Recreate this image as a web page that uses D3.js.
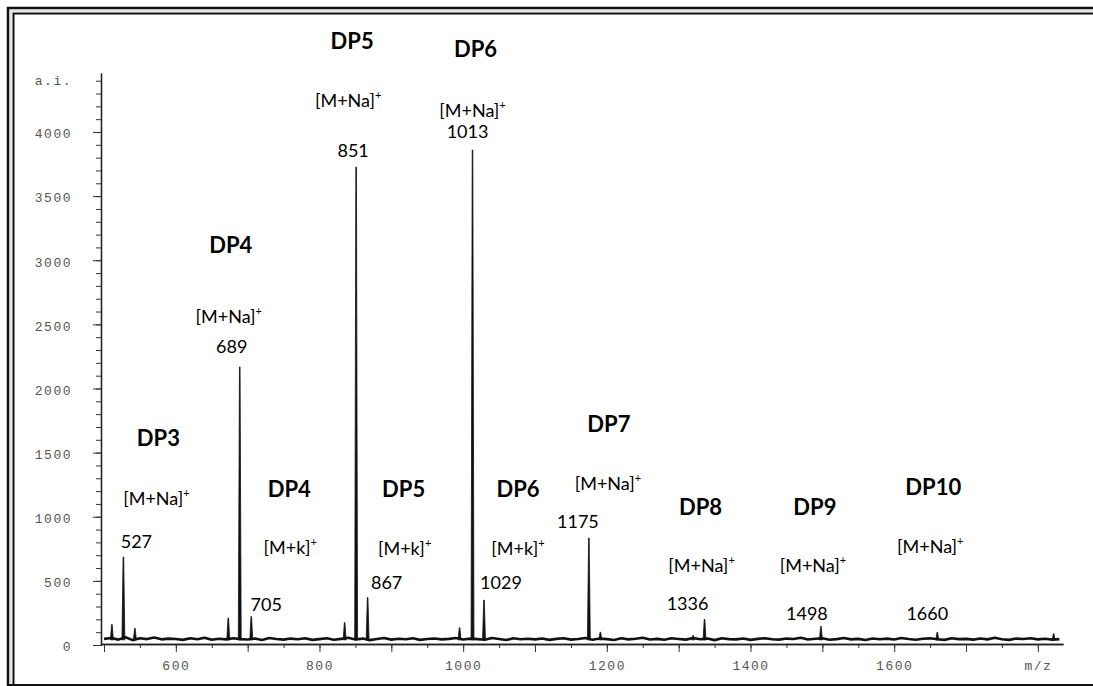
<!DOCTYPE html>
<html>
<head>
<meta charset="utf-8">
<script src="https://cdn.jsdelivr.net/npm/d3@7"></script>
<style>
  body { margin: 0; background: #fff; }
  .tick text { font-family: "Liberation Mono", "DejaVu Sans Mono", monospace; }
</style>
</head>
<body>
<div id="chart"></div>
<script>
// MALDI-TOF spectrum, oligosaccharide series DP3..DP10

// peaks: m/z and intensity (a.i.)
var peakMz  = [511, 527, 543, 673, 689, 705, 835, 851, 867, 995, 1013, 1029, 1175, 1191, 1320, 1336, 1498, 1660, 1822];
var peakInt = [160, 686, 130, 210, 2168, 222, 175, 3727, 370, 135, 3860, 350, 834, 100, 75, 200, 145, 100, 88];

// baseline noise, every 10 m/z from 500 to 1830
var noiseStart = 500, noiseStep = 10;
var noise = [
  48,55,42,60,38,52,46,58,44,50,
  47,40,53,45,57,41,49,44,52,46,
  43,51,39,55,47,42,50,45,53,40,
  46,52,41,48,56,43,50,38,47,54,
  42,49,45,53,40,47,51,44,48,55,
  43,50,46,41,54,47,39,52,45,49,
  44,51,40,48,53,42,47,55,41,50,
  46,39,52,44,49,57,43,48,41,53,
  47,42,55,45,50,38,52,46,44,51,
  40,48,53,45,42,50,47,56,43,49,
  52,41,46,54,44,48,39,51,45,50,
  43,55,47,41,49,52,45,40,53,46,
  48,42,51,44,56,45,40,50,47,53,
  44,49,42,46
];

// annotated peaks
var annMz  = [527, 689, 705, 851, 867, 1013, 1029, 1175, 1336, 1498, 1660];
var annDp  = ["DP3", "DP4", "DP4", "DP5", "DP5", "DP6", "DP6", "DP7", "DP8", "DP9", "DP10"];
var annIon = ["[M+Na]", "[M+Na]", "[M+k]", "[M+Na]", "[M+k]", "[M+Na]", "[M+k]", "[M+Na]", "[M+Na]", "[M+Na]", "[M+Na]"];

// label placement: [dp dx, dp y, ion dx, ion y, number dx, number y]
var annLayout = [
  [35, 446, 33, 505, 13, 548],
  [-9, 253, -11, 323, -8, 353],
  [38, 497, 39, 554, 15, 611],
  [-4, 49, -8, 107, -3, 157],
  [36, 497, 37, 555, 19, 589],
  [3, 57, 0, 117, -5, 138],
  [34, 497, 34, 555, 17, 589],
  [20, 432, 19, 490, -11, 528],
  [-4, 515, -3, 572, -17, 610],
  [-6, 515, -8, 572, -14, 620],
  [-4, 495, -7, 553, -10, 620]
];

var yMajor = [0, 500, 1000, 1500, 2000, 2500, 3000, 3500, 4000];
var xLabels = [600, 800, 1000, 1200, 1400, 1600];

var svgWidth = 1093;
var svgHeight = 686;

var svg = d3.select("#chart")
  .append("svg")
  .attr("width", svgWidth)
  .attr("height", svgHeight)
  .style("display", "block");

svg.append("rect")
  .attr("width", svgWidth).attr("height", svgHeight)
  .attr("fill", "#fff");

// double frame (open on the right, as in the scan)
var frame = svg.append("g").attr("fill", "none").attr("stroke", "#111");
frame.append("path").attr("d", "M8,686 V8 H1093").attr("stroke-width", 2.5);
frame.append("path").attr("d", "M13.5,686 V13.5 H1093").attr("stroke-width", 2);
frame.append("path").attr("d", "M10.8,686 V10.8 H1093").attr("stroke", "#ccc").attr("stroke-width", 1);
frame.append("line").attr("x1", 8).attr("x2", 1093).attr("y1", 685).attr("y2", 685).attr("stroke-width", 2);

var xScale = d3.scaleLinear().domain([495, 1835]).range([100.4, 1063]);
var yScale = d3.scaleLinear().domain([0, 4460]).range([645, 73]);

var axisY = 644;

// y axis: minor then major ticks
var yMinor = svg.append("g")
  .attr("transform", "translate(101,0)")
  .call(d3.axisLeft(yScale).tickValues(d3.range(0, 4460, 100)).tickSize(5).tickSizeOuter(0).tickFormat(""));
var yAx = svg.append("g")
  .attr("transform", "translate(101,0)")
  .call(d3.axisLeft(yScale).tickValues(yMajor).tickSize(8).tickSizeOuter(0).tickPadding(21)
    .tickFormat(function(d) { return d; }));
yAx.selectAll("text")
  .attr("font-size", "13px").attr("fill", "#555").attr("letter-spacing", "1.5px").attr("dy", "0.45em");
svg.selectAll("g path.domain").attr("stroke", "#222").attr("stroke-width", 1.3);

svg.append("text")
  .attr("x", 72).attr("y", yScale(4400) + 4)
  .attr("text-anchor", "end")
  .attr("font-family", "Liberation Mono, monospace")
  .attr("font-size", "13px").attr("fill", "#555").attr("letter-spacing", "1.5px")
  .text("a.i.");

// x axis
var xScaleAxis = xScale.copy();
svg.append("g")
  .attr("transform", "translate(0," + axisY + ")")
  .call(d3.axisBottom(xScale).tickValues(d3.range(500, 1835, 50)).tickSize(4).tickSizeOuter(0).tickFormat(""));
var xAx = svg.append("g")
  .attr("transform", "translate(0," + axisY + ")")
  .call(d3.axisBottom(xScaleAxis).tickValues(d3.range(500, 1835, 100)).tickSize(8).tickSizeOuter(0).tickPadding(9)
    .tickFormat(function(d) { return xLabels.indexOf(d) >= 0 ? d : (d === 1800 ? "m/z" : ""); }));
xAx.selectAll("text")
  .attr("font-size", "13px").attr("fill", "#555").attr("letter-spacing", "1.5px");
svg.selectAll(".tick line").attr("stroke", "#333");
svg.selectAll("path.domain").attr("stroke", "#222").attr("stroke-width", 1.3);

// spectrum baseline noise
var noiseLine = d3.line()
  .x(function(d, i) { return xScale(noiseStart + i * noiseStep); })
  .y(function(d) { return yScale(d); });

svg.append("path")
  .datum(noise)
  .attr("d", noiseLine)
  .attr("fill", "none")
  .attr("stroke", "#111")
  .attr("stroke-width", 2.6)
  .attr("stroke-linejoin", "round");

// peaks as narrow spikes
var peaks = peakMz.map(function(m, i) { return { mz: m, v: peakInt[i] }; });
svg.append("g")
  .selectAll("path")
  .data(peaks)
  .enter()
  .append("path")
  .attr("d", function(d) {
    var b = yScale(40);
    return "M" + xScale(d.mz - 2) + "," + b +
           "L" + xScale(d.mz - 0.4) + "," + yScale(d.v) +
           "L" + xScale(d.mz + 0.4) + "," + yScale(d.v) +
           "L" + xScale(d.mz + 2) + "," + b + "Z";
  })
  .attr("fill", "#111")
  .attr("stroke", "#111")
  .attr("stroke-width", 0.8);

// annotations
var font = "Lato, 'Open Sans', sans-serif";
var ann = svg.append("g")
  .selectAll("g")
  .data(annMz)
  .enter()
  .append("g");

ann.append("text")
  .attr("x", function(d, i) { return xScale(d) + annLayout[i][0]; })
  .attr("y", function(d, i) { return annLayout[i][1]; })
  .attr("text-anchor", "middle")
  .attr("font-family", font)
  .attr("font-weight", "bold")
  .attr("font-size", "22px")
  .attr("fill", "#000")
  .text(function(d, i) { return annDp[i]; });

var ion = ann.append("text")
  .attr("x", function(d, i) { return xScale(d) + annLayout[i][2]; })
  .attr("y", function(d, i) { return annLayout[i][3]; })
  .attr("text-anchor", "middle")
  .attr("font-family", font)
  .attr("font-size", "18px")
  .attr("fill", "#000");
ion.append("tspan").text(function(d, i) { return annIon[i]; });
ion.append("tspan").attr("dy", "-8").attr("font-size", "11px").text("+");

ann.append("text")
  .attr("x", function(d, i) { return xScale(d) + annLayout[i][4]; })
  .attr("y", function(d, i) { return annLayout[i][5]; })
  .attr("text-anchor", "middle")
  .attr("font-family", font)
  .attr("font-size", "18px")
  .attr("fill", "#000")
  .text(function(d) { return d; });
</script>
</body>
</html>
